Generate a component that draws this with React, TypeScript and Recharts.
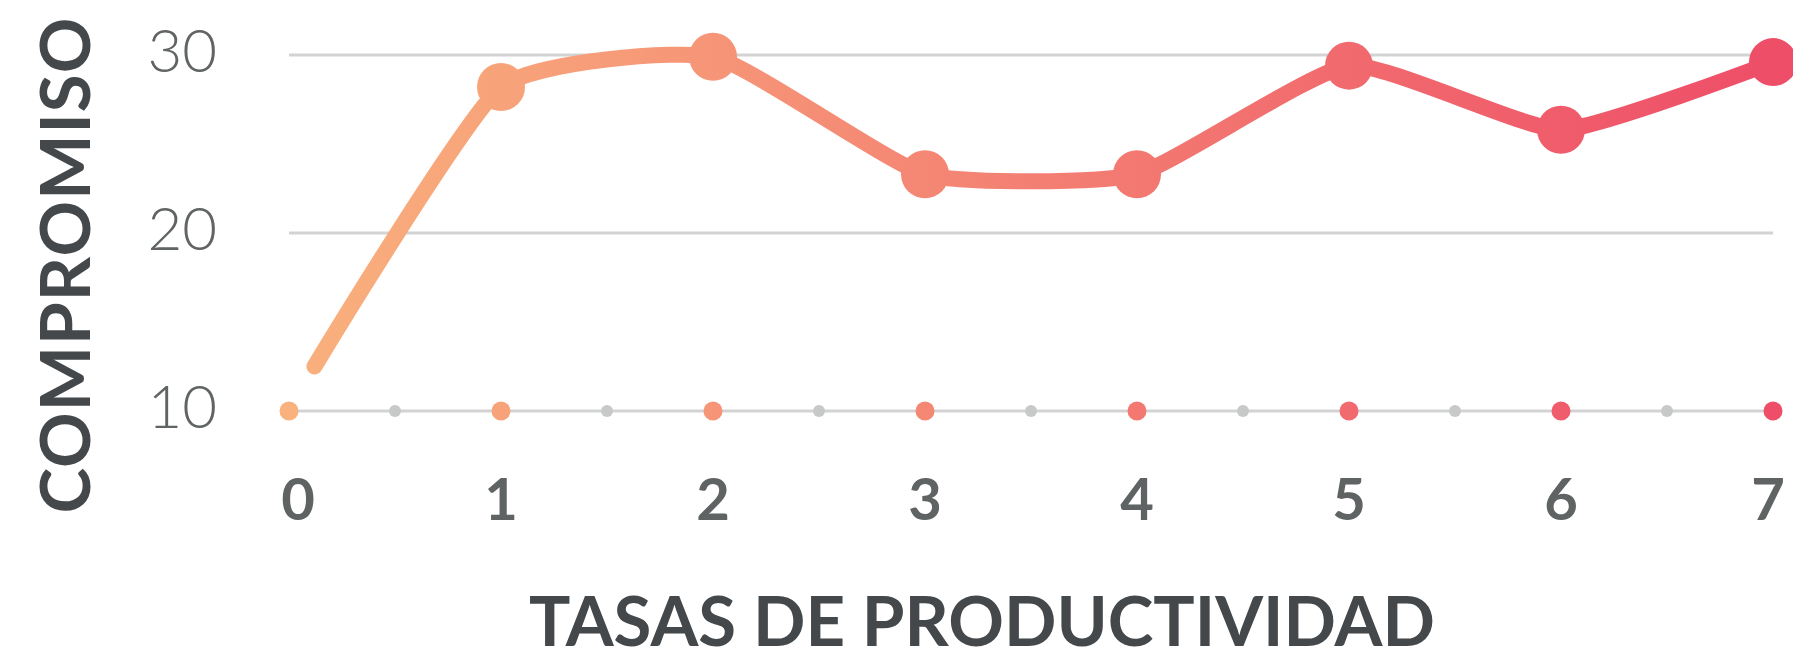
import React from 'react';
import { LineChart, Line, XAxis, YAxis, CartesianGrid } from 'recharts';

const xValues = [0.12, 1, 2, 3, 4, 5, 6, 7];
const engagement = [12.5, 28.2, 29.9, 23.3, 23.3, 29.4, 25.8, 29.6];
const xTicks = [0, 0.5, 1, 1.5, 2, 2.5, 3, 3.5, 4, 4.5, 5, 5.5, 6, 6.5, 7];
const yTicks = [10, 20, 30];
const xTitle = 'TASAS DE PRODUCTIVIDAD';
const yTitle = 'COMPROMISO';

const data = xValues.map((x, i) => ({ x, y: engagement[i] }));

const FONT = 'Lato, "Open Sans", sans-serif';

// Cardinal spline curve (tension 0.5), d3-shape compatible curve factory
function cardPoint(that: any, x: number, y: number) {
  that._context.bezierCurveTo(
    that._x1 + that._k * (that._x2 - that._x0),
    that._y1 + that._k * (that._y2 - that._y0),
    that._x2 + that._k * (that._x1 - x),
    that._y2 + that._k * (that._y1 - y),
    that._x2,
    that._y2
  );
}
class Cardinal {
  _context: any; _k: number; _line: any; _point = 0;
  _x0 = NaN; _x1 = NaN; _x2 = NaN; _y0 = NaN; _y1 = NaN; _y2 = NaN;
  constructor(context: any, tension: number) {
    this._context = context;
    this._k = (1 - tension) / 6;
  }
  areaStart() { this._line = 0; }
  areaEnd() { this._line = NaN; }
  lineStart() {
    this._x0 = this._x1 = this._x2 = this._y0 = this._y1 = this._y2 = NaN;
    this._point = 0;
  }
  lineEnd() {
    switch (this._point) {
      case 2: this._context.lineTo(this._x2, this._y2); break;
      case 3: cardPoint(this, this._x1, this._y1); break;
    }
    if (this._line || (this._line !== 0 && this._point === 1)) this._context.closePath();
    this._line = 1 - this._line;
  }
  point(x: number, y: number) {
    x = +x; y = +y;
    switch (this._point) {
      case 0: this._point = 1; this._line ? this._context.lineTo(x, y) : this._context.moveTo(x, y); break;
      case 1: this._point = 2; this._x1 = x; this._y1 = y; break;
      case 2: this._point = 3; cardPoint(this, x, y); break;
      default: cardPoint(this, x, y); break;
    }
    this._x0 = this._x1; this._x1 = this._x2; this._x2 = x;
    this._y0 = this._y1; this._y1 = this._y2; this._y2 = y;
  }
}
const cardinalCurve: any = (context: any) => new Cardinal(context, 0.5);

const XTick = (props: any) => {
  const { x, y, payload } = props;
  const v = payload.value;
  const isMajor = Number.isInteger(v);
  if (!isMajor) {
    return <circle cx={x} cy={y} r={6} fill="#C7C8C8" />;
  }
  const dx = v === 0 ? 9 : v === 7 ? -5 : 0;
  return (
    <g>
      <circle cx={x} cy={y} r={9.5} fill="url(#lineGrad)" />
      <text
        x={x + dx}
        y={y + 109}
        textAnchor="middle"
        fontFamily={FONT}
        fontWeight={700}
        fontSize={58}
        fill="#5F6363"
      >
        {v}
      </text>
    </g>
  );
};

const YTick = (props: any) => {
  const { x, y, payload } = props;
  return (
    <text
      x={x - 72}
      y={y + 17}
      textAnchor="end"
      fontFamily={FONT}
      fontWeight={300}
      fontSize={60}
      fill="#606464"
    >
      {payload.value}
    </text>
  );
};

const renderDot = (props: any) => {
  const { cx, cy, index } = props;
  if (index === 0) return <g key={`d${index}`} />;
  return <circle key={`d${index}`} cx={cx} cy={cy} r={24} fill="url(#lineGrad)" />;
};

const XTitle = (props: any) => {
  const vb = props.viewBox || { x: 289, y: 411, width: 1484, height: 244 };
  return (
    <text
      x={vb.x + vb.width / 2 - 49}
      y={vb.y + 235}
      textAnchor="middle"
      fontFamily={FONT}
      fontWeight={700}
      fontSize={69}
      fill="#45484B"
    >
      {xTitle}
    </text>
  );
};

const YTitle = (props: any) => {
  const vb = props.viewBox || { x: 0, y: 55, width: 289, height: 356 };
  const cx = vb.x + 90;
  const cy = vb.y + vb.height / 2 + 32;
  return (
    <text
      x={cx}
      y={cy}
      transform={`rotate(-90, ${cx}, ${cy})`}
      textAnchor="middle"
      fontFamily={FONT}
      fontWeight={700}
      fontSize={69}
      letterSpacing={1}
      fill="#45484B"
    >
      {yTitle}
    </text>
  );
};

export default function App() {
  return (
    <div style={{ position: 'absolute', left: 0, top: 0, width: 1793, height: 655, background: '#fff' }}>
      <LineChart
        width={1793}
        height={655}
        data={data}
        margin={{ top: 55, right: 20, bottom: 0, left: 0 }}
      >
        <defs>
          <linearGradient id="lineGrad" gradientUnits="userSpaceOnUse" x1={289} y1={0} x2={1773} y2={0}>
            <stop offset="0%" stopColor="#F9B17D" />
            <stop offset="100%" stopColor="#EE4E68" />
          </linearGradient>
        </defs>
        <CartesianGrid vertical={false} stroke="#D3D3D3" strokeWidth={3} />
        <XAxis
          dataKey="x"
          type="number"
          domain={[0, 7]}
          ticks={xTicks}
          interval={0}
          height={244}
          axisLine={false}
          tickLine={false}
          tickSize={0}
          tickMargin={0}
          tick={<XTick />}
          label={<XTitle />}
        />
        <YAxis
          type="number"
          domain={[10, 30]}
          ticks={yTicks}
          width={289}
          axisLine={false}
          tickLine={false}
          tickSize={0}
          tickMargin={0}
          tick={<YTick />}
          label={<YTitle />}
        />
        <Line
          dataKey="y"
          type={cardinalCurve}
          stroke="url(#lineGrad)"
          strokeWidth={16}
          strokeLinecap="round"
          strokeLinejoin="round"
          dot={renderDot}
          activeDot={false}
          isAnimationActive={false}
        />
      </LineChart>
    </div>
  );
}
